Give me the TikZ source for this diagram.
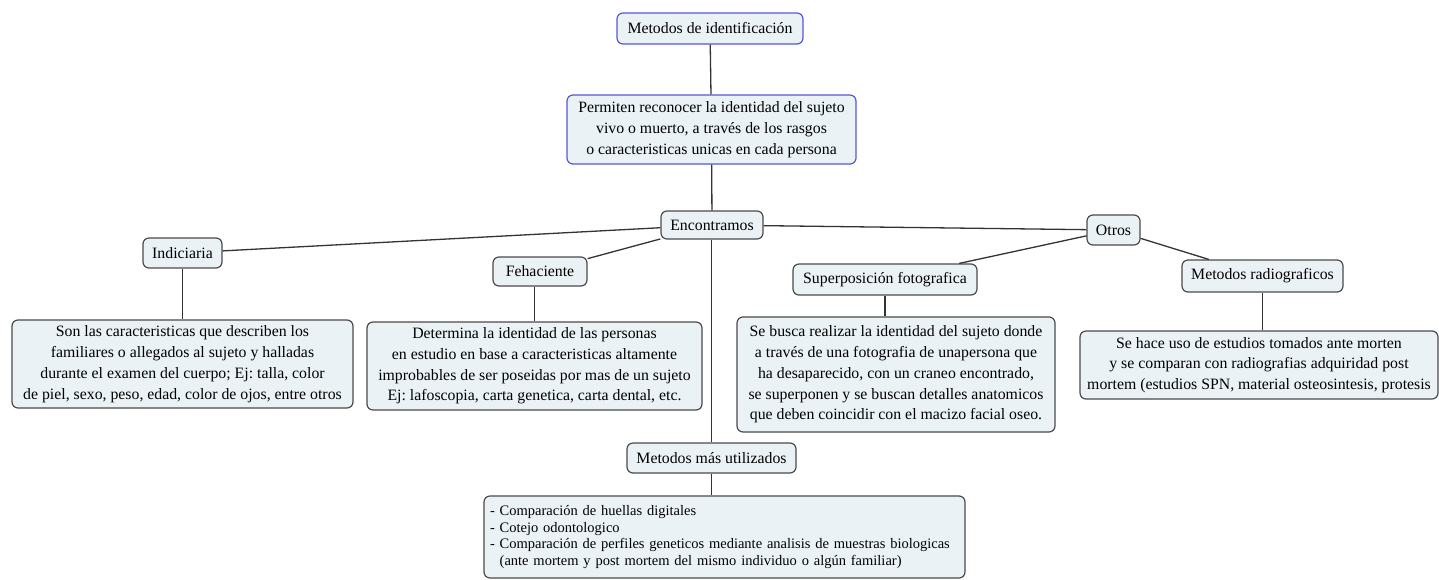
\documentclass[tikz,border=0pt]{standalone}
\usepackage{fontspec}
\setmainfont{Liberation Serif}
\frenchspacing
\definecolor{boxfill}{HTML}{EBF2F6}
\definecolor{boxdraw}{HTML}{4A4A4A}
\definecolor{bluedraw}{HTML}{5656D8}
\definecolor{linec}{HTML}{333333}
\begin{document}
\begin{tikzpicture}[x=1pt,y=-1pt,
  box/.style={draw=boxdraw,fill=boxfill,line width=1.2pt,rounded corners=6pt,
    align=center,inner sep=0pt,font=\fontsize{15.8}{20.8}\selectfont},
  bluebox/.style={box,draw=bluedraw},
  conn/.style={draw=linec,line width=1.3pt}]
\useasboundingbox (0,0) rectangle (1439,579);
% nodes
\node[bluebox,minimum width=186pt,minimum height=31pt] (title) at (710,28.5) {Metodos de identificación};
\node[bluebox,minimum width=289pt,minimum height=69pt] (perm) at (711.5,129.5)
  {Permiten reconocer la identidad del sujeto\\vivo o muerto, a través de los rasgos\\o caracteristicas unicas en cada persona};
\node[box,minimum width=102pt,minimum height=28pt] (enc) at (712,225) {Encontramos};
\node[box,minimum width=79pt,minimum height=30pt] (ind) at (182.5,253) {Indiciaria};
\node[box,minimum width=341pt,minimum height=88pt] (indt) at (182.5,364)
  {Son las caracteristicas que describen los\\familiares o allegados al sujeto y halladas\\durante el examen del cuerpo; Ej: talla, color\\de piel, sexo, peso, edad, color de ojos, entre otros};
\node[box,minimum width=94pt,minimum height=29pt] (feh) at (540,271.5) {Fehaciente};
\node[box,minimum width=335pt,minimum height=88pt] (feht) at (534.5,366)
  {Determina la identidad de las personas\\en estudio en base a caracteristicas altamente\\improbables de ser poseidas por mas de un sujeto\\Ej: lafoscopia, carta genetica, carta dental, etc.};
\node[box,minimum width=53pt,minimum height=30pt] (otros) at (1113.5,230) {Otros};
\node[box,minimum width=184pt,minimum height=31pt] (sup) at (885,279.5) {Superposición fotografica};
\node[box,minimum width=318pt,minimum height=115pt] (supt) at (896,374.5)
  {Se busca realizar la identidad del sujeto donde\\a través de una fotografia de unapersona que\\ha desaparecido, con un craneo encontrado,\\se superponen y se buscan detalles anatomicos\\que deben coincidir con el macizo facial oseo.};
\node[box,minimum width=161pt,minimum height=32pt] (rad) at (1262.5,276) {Metodos radiograficos};
\node[box,minimum width=358pt,minimum height=68pt] (radt) at (1259,365)
  {Se hace uso de estudios tomados ante morten\\y se comparan con radiografias adquiridad post\\mortem (estudios SPN, material osteosintesis, protesis};
\node[box,minimum width=169pt,minimum height=30pt] (mas) at (711.5,458) {Metodos más utilizados};
\node[box,minimum width=481pt,minimum height=82pt,align=left,text width=469pt,
  font=\fontsize{14.5}{16.5}\selectfont] (bot) at (724.5,537)
  {- Comparación de huellas digitales\\- Cotejo odontologico\\- Comparación de perfiles geneticos mediante analisis de muestras biologicas\\\ \ (ante mortem y post mortem del mismo individuo o algún familiar)};
% connectors
\draw[conn] (title) -- (perm);
\draw[conn] (perm) -- (enc);
\draw[conn] (enc) -- (ind);
\draw[conn] (enc) -- (feh);
\draw[conn] (enc) -- (otros);
\draw[conn] (enc.south -| mas.north) -- (mas.north);
\draw[conn] (otros) -- (sup);
\draw[conn] (otros) -- (rad);
\draw[conn] (ind.south) -- (ind.south |- indt.north);
\draw[conn] (feht.north |- feh.south) -- (feht.north);
\draw[conn] (sup.south) -- (sup.south |- supt.north);
\draw[conn] (rad.south) -- (rad.south |- radt.north);
\draw[conn] (mas.south) -- (mas.south |- bot.north);
\end{tikzpicture}
\end{document}
